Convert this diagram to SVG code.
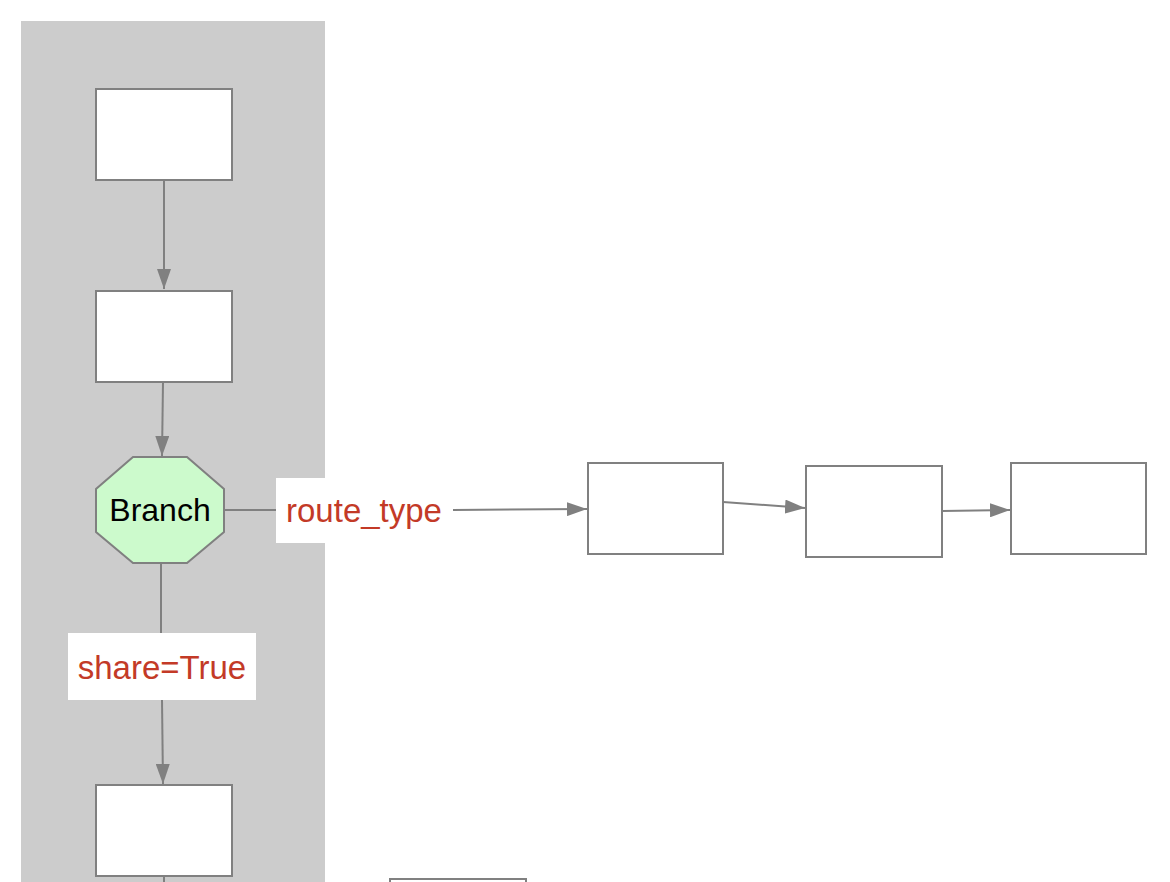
<svg xmlns="http://www.w3.org/2000/svg" width="1170" height="882" viewBox="0 0 1170 882">
<style>
.node{fill:#ffffff;stroke:#808080;stroke-width:2}
.edge{fill:none;stroke:#808080;stroke-width:2}
.lbl{font-family:"Liberation Sans",Arial,sans-serif;font-size:33px;fill:#c33a27;text-anchor:middle}
.txt{font-family:"Liberation Sans",Arial,sans-serif;font-size:32px;fill:#000000;text-anchor:middle}
</style>
<defs>
<marker id="arr" viewBox="0 0 20 14" refX="20" refY="7" markerWidth="20" markerHeight="14" markerUnits="userSpaceOnUse" orient="auto">
<path d="M0,0 L20,7 L0,14 Z" fill="#808080"/>
</marker>
</defs>
<rect width="1170" height="882" fill="#ffffff"/>
<rect id="cluster" x="21" y="21" width="304" height="870" fill="#cccccc"/>
<g id="connectors">
<line class="edge" x1="164" y1="180" x2="164" y2="289" marker-end="url(#arr)"/>
<line class="edge" x1="163" y1="382" x2="162" y2="456" marker-end="url(#arr)"/>
<line class="edge" x1="224" y1="510" x2="276" y2="510"/>
<line class="edge" x1="453" y1="510" x2="587" y2="509" marker-end="url(#arr)"/>
<line class="edge" x1="161" y1="563" x2="161" y2="633"/>
<line class="edge" x1="162" y1="700" x2="163" y2="784" marker-end="url(#arr)"/>
<line class="edge" x1="164" y1="876" x2="164" y2="882"/>
<line class="edge" x1="723" y1="502" x2="805" y2="508" marker-end="url(#arr)"/>
<line class="edge" x1="942" y1="511" x2="1010" y2="510" marker-end="url(#arr)"/>
</g>
<g id="label-route">
<rect x="276" y="478" width="177" height="65" fill="#ffffff"/>
<text class="lbl" x="364" y="522">route_type</text>
</g>
<g id="label-share">
<rect x="68" y="633" width="188" height="67" fill="#ffffff"/>
<text class="lbl" x="162" y="679">share=True</text>
</g>
<g id="n1"><rect class="node" x="96" y="89" width="136" height="91"/></g>
<g id="n2"><rect class="node" x="96" y="291" width="136" height="91"/></g>
<g id="branch">
<polygon points="133,457 187,457 224,489 224,532 187,563 133,563 96,532 96,489" fill="#ccfacc" stroke="#808080" stroke-width="2"/>
<text class="txt" x="160" y="521">Branch</text>
</g>
<g id="n3"><rect class="node" x="96" y="785" width="136" height="91"/></g>
<g id="nA"><rect class="node" x="588" y="463" width="135" height="91"/></g>
<g id="nB"><rect class="node" x="806" y="466" width="136" height="91"/></g>
<g id="nC"><rect class="node" x="1011" y="463" width="135" height="91"/></g>
<g id="nD"><rect class="node" x="390" y="879" width="136" height="91"/></g>
</svg>
